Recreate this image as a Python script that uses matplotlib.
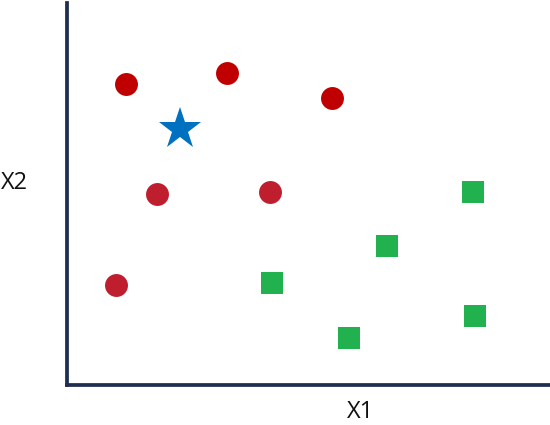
import matplotlib.pyplot as plt

# class A (red circles)
red_dark_x = [1.22, 3.31, 5.49]
red_dark_y = [6.30, 6.53, 6.01]
red_x = [1.86, 4.20, 1.01]
red_y = [4.00, 4.04, 2.09]

# class B (green squares)
green_x = [8.41, 6.63, 4.24, 5.84, 8.45]
green_y = [4.04, 2.91, 2.14, 0.98, 1.45]

# query point (blue star)
star_x = [2.34]
star_y = [5.36]

fig = plt.figure(figsize=(5.5, 4.25), dpi=100)
ax = fig.add_axes([67 / 550, 40 / 425, 483 / 550, 382 / 425])

ax.plot(red_dark_x, red_dark_y, "o", color="#C00000", markersize=16.5, markeredgewidth=0)
ax.plot(red_x, red_y, "o", color="#BE1E2D", markersize=16.5, markeredgewidth=0)
ax.plot(green_x, green_y, "s", color="#22B14F", markersize=16.5, markeredgewidth=0)
ax.plot(star_x, star_y, "*", color="#0070C0", markersize=32, markeredgewidth=0)

ax.set_xlim(0, 10)
ax.set_ylim(0, 8)
ax.set_xticks([])
ax.set_yticks([])
for side in ["top", "right"]:
    ax.spines[side].set_visible(False)
for side in ["left", "bottom"]:
    ax.spines[side].set_color("#1F2D50")
    ax.spines[side].set_linewidth(2.7)

fig.text(361 / 550, 1 - 412 / 425, "X1", ha="center", va="center",
         fontsize=17, family="Open Sans", color="#111111")
fig.text(14 / 550, 1 - 183 / 425, "X2", ha="center", va="center",
         fontsize=17, family="Open Sans", color="#111111")

fig.savefig("out.png", dpi=100)
